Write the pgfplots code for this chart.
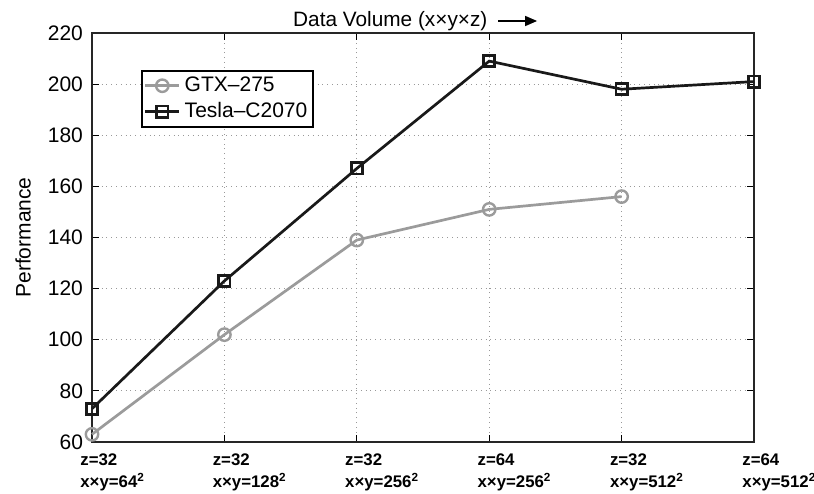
\documentclass[border=0pt]{standalone}
\usepackage{pgfplots}
\pgfplotsset{compat=1.18}
\usetikzlibrary{arrows.meta}
\usepackage{fontspec}
\setmainfont{Liberation Sans}
\definecolor{gtx}{RGB}{155,155,155}
\definecolor{tesla}{RGB}{25,25,25}
\begin{document}
\begin{tikzpicture}
\begin{axis}[
  scale only axis, width=331pt, height=204.5pt,
  xmin=0, xmax=5, ymin=60, ymax=220,
  xtick={0,1,2,3,4,5},
  xticklabels={
    {z=32\\x×y=64\textsuperscript{2}},
    {z=32\\x×y=128\textsuperscript{2}},
    {z=32\\x×y=256\textsuperscript{2}},
    {z=64\\x×y=256\textsuperscript{2}},
    {z=32\\x×y=512\textsuperscript{2}},
    {z=64\\x×y=512\textsuperscript{2}}},
  ytick={60,80,...,220},
  grid=major,
  major grid style={dotted, line width=0.5pt, gray!80},
  tick align=inside, major tick length=3.5pt,
  tick style={black, line width=0.5pt},
  axis line style={line width=1pt, black!85},
  /pgf/number format/assume math mode=true,
  yticklabel style={font=\fontsize{10.5}{12}\selectfont, xshift=-1pt},
  xticklabel style={font=\fontsize{8.4}{11}\selectfont\bfseries, align=left, anchor=north west, inner sep=0pt, xshift=-6pt, yshift=-5.5pt},
  ylabel={Performance},
  ylabel style={font=\fontsize{10.5}{12}\selectfont, at={(axis description cs:-0.104,0.5)}, anchor=center},
  title={Data Volume (x×y×z)\hspace{5pt}\tikz[baseline]\draw[line width=0.7pt,-{Triangle[length=6pt,width=5pt]}] (0,3pt)--(19.5pt,3pt);},
  title style={font=\fontsize{10.4}{12}\selectfont, anchor=base, yshift=-3pt, xshift=-3.75pt},
  legend style={at={(0.074,0.9095)}, anchor=north west, font=\fontsize{10.5}{12}\selectfont,
    draw=black, line width=0.9pt, inner xsep=1pt, inner ysep=1pt, row sep=0pt, cells={anchor=west}},
  legend image post style={line width=1.35pt},
  clip=false,
]
\addplot[gtx, line width=1.35pt, mark=o, mark size=3.1pt, mark options={solid, line width=1.2pt}]
  coordinates {(0,63) (1,102) (2,139) (3,151) (4,156)};
\addlegendentry{GTX–275}
\addplot[tesla, line width=1.35pt, mark=square, mark size=2.8pt, mark options={solid, line width=1.4pt}]
  coordinates {(0,73) (1,123) (2,167) (3,209) (4,198) (5,201)};
\addlegendentry{Tesla–C2070}
\end{axis}
\pgfresetboundingbox
\path ([shift={(-46pt,-25.5pt)}]current axis.south west) rectangle ([shift={(30pt,16.5pt)}]current axis.north east);
\end{tikzpicture}
\end{document}
